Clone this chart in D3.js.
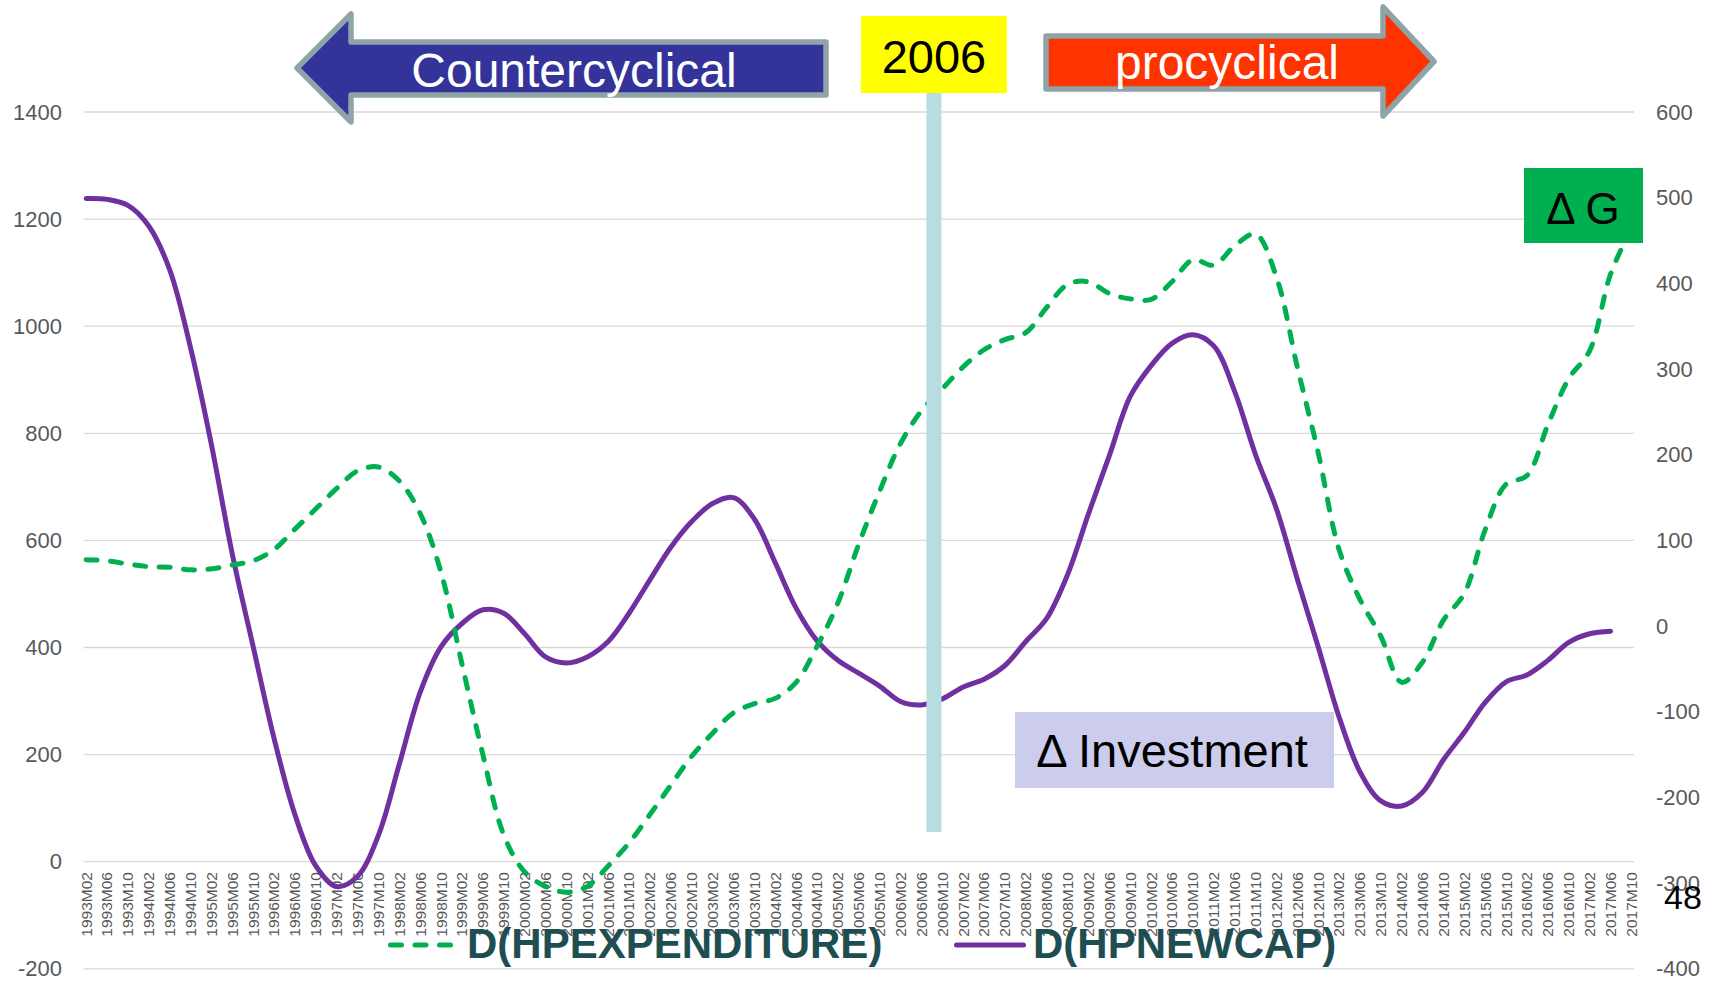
<!DOCTYPE html>
<html>
<head>
<meta charset="utf-8">
<script src="https://cdn.jsdelivr.net/npm/d3@7"></script>
<style>
body { margin: 0; background: #fff; }
text { font-family: "Liberation Sans", Arial, sans-serif; }
</style>
</head>
<body>
<div id="chart"></div>
<script>
var w = 1717, h = 981;

// categories: one label every 4 months, 1993M02 .. 2017M10
var years = d3.range(1993, 2018);
var months = ["M02", "M06", "M10"];
var categories = [];
years.forEach(function(y) {
  months.forEach(function(m) { categories.push(y + m); });
});

// D(HPEXPENDITURE), left axis (dashed green)
var expenditure = [
  564, 562, 556, 551, 550, 545, 547, 554, 562, 583,
  621, 659, 697, 730, 737, 711, 650, 540, 369, 200,
  50, -19, -46, -57, -46, -8, 35, 88, 143, 197,
  240, 278, 295, 305, 335, 402, 483, 593, 692, 781,
  842, 883, 924, 956, 975, 988, 1035, 1078, 1083, 1061,
  1051, 1050, 1083, 1124, 1114, 1150, 1172, 1092, 924, 764,
  583, 490, 421, 335, 373, 451, 501, 620, 705, 721,
  816, 902, 954, 1097, 1183
];

// D(HPNEWCAP), right axis (solid purple)
var newcap = [
  499, 498, 491, 467, 416, 325, 212, 84, -24, -131,
  -220, -280, -304, -292, -244, -161, -77, -24, 3, 19,
  15, -9, -36, -43, -36, -18, 15, 54, 92, 122,
  143, 150, 125, 74, 21, -17, -40, -55, -70, -88,
  -92, -85, -71, -62, -46, -18, 9, 60, 131, 199,
  268, 304, 330, 340, 327, 274, 200, 137, 55, -24,
  -106, -170, -204, -210, -194, -156, -124, -89, -65, -57,
  -40, -19, -9, -6
];

var leftTicks = [-200, 0, 200, 400, 600, 800, 1000, 1200, 1400];
var rightTicks = [-400, -300, -200, -100, 0, 100, 200, 300, 400, 500, 600];
var seriesNames = ["D(HPEXPENDITURE)", "D(HPNEWCAP)"];
var markerYear = "2006", markerAt = 40.6;

var x = d3.scaleLinear().domain([-0.125, categories.length - 1 + 0.125]).range([83.5, 1634]);
var yL = d3.scaleLinear().domain([-200, 1400]).range([968.8, 112]);
var yR = d3.scaleLinear().domain([-400, 600]).range([968.8, 112]);
var plain = function(d) { return String(d); };

var svg = d3.select("#chart").append("svg")
  .attr("width", w).attr("height", h)
  .style("background", "#fff");

// gridlines
svg.append("g").selectAll("line").data(leftTicks).enter().append("line")
  .attr("x1", x.range()[0]).attr("x2", x.range()[1])
  .attr("y1", function(d) { return yL(d); }).attr("y2", function(d) { return yL(d); })
  .attr("stroke", "#d9d9d9").attr("stroke-width", 1.3);

// y axes
var gl = svg.append("g").attr("transform", "translate(" + x.range()[0] + ",0)")
  .call(d3.axisLeft(yL).tickValues(leftTicks).tickFormat(plain).tickSize(0).tickPadding(21.5));
var gr = svg.append("g").attr("transform", "translate(" + x.range()[1] + ",0)")
  .call(d3.axisRight(yR).tickValues(rightTicks).tickFormat(plain).tickSize(0).tickPadding(22));
[gl, gr].forEach(function(g) {
  g.select(".domain").remove();
  g.selectAll("text").attr("fill", "#595959").style("font-size", "22px")
    .style("font-family", "'Liberation Sans', Arial, sans-serif");
});

// category labels
svg.append("g").selectAll("text").data(categories).enter().append("text")
  .attr("transform", function(d, i) { return "translate(" + x(i) + ",872) rotate(-90)"; })
  .attr("dy", "0.35em").attr("text-anchor", "end")
  .attr("fill", "#595959").style("font-size", "15.5px")
  .text(function(d) { return d; });

// series lines
var lineL = d3.line().x(function(d, i) { return x(i); }).y(function(d) { return yL(d); })
  .curve(d3.curveCatmullRom.alpha(0.5));
var lineR = d3.line().x(function(d, i) { return x(i); }).y(function(d) { return yR(d); })
  .curve(d3.curveCatmullRom.alpha(0.5));

svg.append("path").datum(newcap).attr("d", lineR)
  .attr("fill", "none").attr("stroke", "#7030a0").attr("stroke-width", 5)
  .attr("stroke-linecap", "round");
svg.append("path").datum(expenditure).attr("d", lineL)
  .attr("fill", "none").attr("stroke", "#00b050").attr("stroke-width", 5)
  .attr("stroke-dasharray", "11,13.5").attr("stroke-linecap", "round");

// 2006 marker bar and label
svg.append("rect").attr("x", x(markerAt) - 7.5).attr("y", 93).attr("width", 15).attr("height", 739)
  .attr("fill", "#b7dde0");
svg.append("rect").attr("x", x(markerAt) - 73).attr("y", 16).attr("width", 146).attr("height", 77)
  .attr("fill", "#ffff00");
svg.append("text").attr("x", x(markerAt)).attr("y", 73).attr("text-anchor", "middle")
  .style("font-size", "47px").attr("fill", "#000").text(markerYear);

// arrows
var arrowLeft = [[297, 68], [351, 14], [351, 42], [826, 42], [826, 95], [351, 95], [351, 122]];
var arrowRight = [[1434, 61.5], [1383, 7], [1383, 36], [1046, 36], [1046, 89], [1383, 89], [1383, 116]];
svg.append("polygon").attr("points", arrowLeft.join(" "))
  .attr("fill", "#333399").attr("stroke", "#8ea4a8").attr("stroke-width", 5.5)
  .attr("stroke-linejoin", "round");
svg.append("text").attr("x", 574).attr("y", 87).attr("text-anchor", "middle")
  .style("font-size", "48px").attr("fill", "#fff").text("Countercyclical");
svg.append("polygon").attr("points", arrowRight.join(" "))
  .attr("fill", "#ff3300").attr("stroke", "#8ea4a8").attr("stroke-width", 5.5)
  .attr("stroke-linejoin", "round");
svg.append("text").attr("x", 1227).attr("y", 79).attr("text-anchor", "middle")
  .style("font-size", "48px").attr("fill", "#fff").text("procyclical");

// Delta G box
svg.append("rect").attr("x", 1524).attr("y", 168).attr("width", 119).attr("height", 75)
  .attr("fill", "#00b050");
svg.append("text").attr("x", 1583).attr("y", 224).attr("text-anchor", "middle")
  .style("font-size", "44px").attr("fill", "#000").text("\u0394 G");

// Delta Investment box
svg.append("rect").attr("x", 1015).attr("y", 712).attr("width", 319).attr("height", 76)
  .attr("fill", "#cccced");
svg.append("text").attr("x", 1172).attr("y", 767).attr("text-anchor", "middle")
  .style("font-size", "47px").attr("fill", "#000").text("\u0394 Investment");

// legend
var legend = svg.append("g");
legend.append("line").attr("x1", 390.5).attr("x2", 453).attr("y1", 945).attr("y2", 945)
  .attr("stroke", "#00b050").attr("stroke-width", 5)
  .attr("stroke-dasharray", "11,13.5").attr("stroke-linecap", "round");
legend.append("text").attr("x", 467).attr("y", 958)
  .style("font-size", "42px").style("font-weight", "bold").attr("fill", "#1f4e52")
  .text(seriesNames[0]);
legend.append("line").attr("x1", 956.5).attr("x2", 1023.5).attr("y1", 945).attr("y2", 945)
  .attr("stroke", "#7030a0").attr("stroke-width", 5).attr("stroke-linecap", "round");
legend.append("text").attr("x", 1033).attr("y", 958)
  .style("font-size", "42px").style("font-weight", "bold").attr("fill", "#1f4e52")
  .text(seriesNames[1]);

// slide number
svg.append("text").attr("x", 1683).attr("y", 909).attr("text-anchor", "middle")
  .style("font-size", "34px").attr("fill", "#000").text("48");
</script>
</body>
</html>
